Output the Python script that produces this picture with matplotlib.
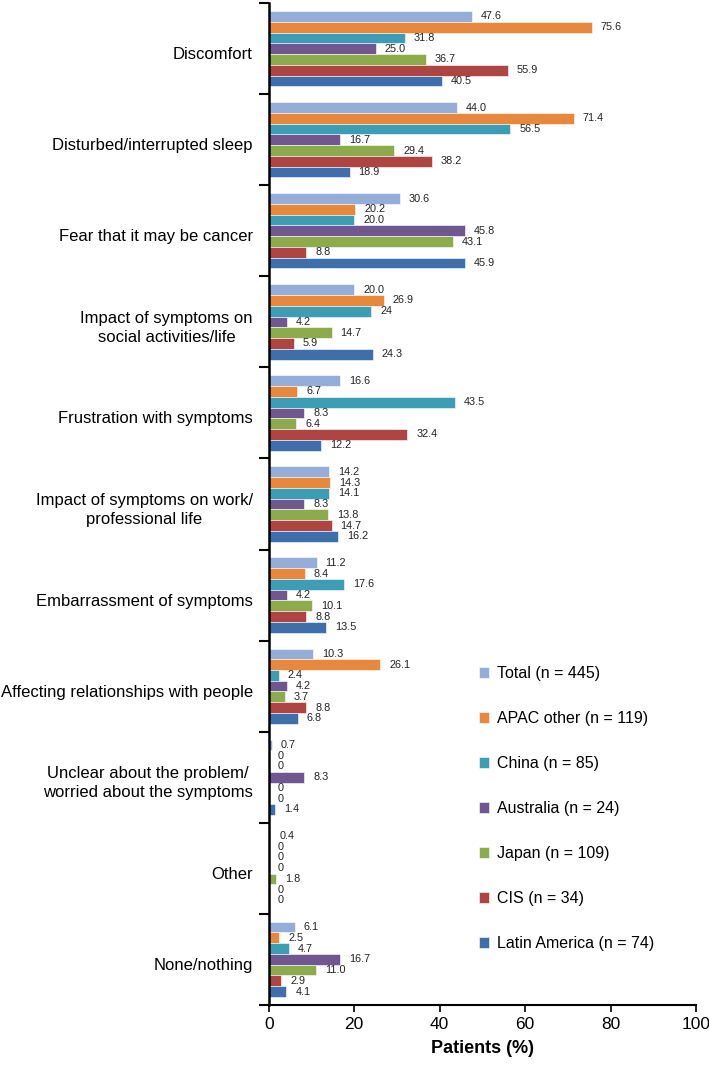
import numpy as np
import matplotlib
matplotlib.use("Agg")
import matplotlib.pyplot as plt
from matplotlib.transforms import ScaledTranslation, blended_transform_factory

plt.rcParams['font.family'] = ['Liberation Sans', 'DejaVu Sans']

# categories, top to bottom
categories = [
    'Discomfort',
    'Disturbed/interrupted sleep',
    'Fear that it may be cancer',
    'Impact of symptoms on\nsocial activities/life',
    'Frustration with symptoms',
    'Impact of symptoms on work/\nprofessional life',
    'Embarrassment of symptoms',
    'Affecting relationships with people',
    'Unclear about the problem/\nworried about the symptoms',
    'Other',
    'None/nothing',
]

series_names = ['Total (n = 445)', 'APAC other (n = 119)', 'China (n = 85)',
                'Australia (n = 24)', 'Japan (n = 109)', 'CIS (n = 34)',
                'Latin America (n = 74)']
colors = ['#95aed9', '#e8883c', '#3d9db4', '#71578f', '#8bab4c', '#ae4543', '#3f6faa']

total = [47.6, 44.0, 30.6, 20.0, 16.6, 14.2, 11.2, 10.3, 0.7, 0.4, 6.1]
apac = [75.6, 71.4, 20.2, 26.9, 6.7, 14.3, 8.4, 26.1, 0, 0, 2.5]
china = [31.8, 56.5, 20.0, 24, 43.5, 14.1, 17.6, 2.4, 0, 0, 4.7]
australia = [25.0, 16.7, 45.8, 4.2, 8.3, 8.3, 4.2, 4.2, 8.3, 0, 16.7]
japan = [36.7, 29.4, 43.1, 14.7, 6.4, 13.8, 10.1, 3.7, 0, 1.8, 11.0]
cis = [55.9, 38.2, 8.8, 5.9, 32.4, 14.7, 8.8, 8.8, 0, 0, 2.9]
latam = [40.5, 18.9, 45.9, 24.3, 12.2, 16.2, 13.5, 6.8, 1.4, 0, 4.1]

# value labels as printed in the chart
total_lbl = ['47.6', '44.0', '30.6', '20.0', '16.6', '14.2', '11.2', '10.3', '0.7', '0.4', '6.1']
apac_lbl = ['75.6', '71.4', '20.2', '26.9', '6.7', '14.3', '8.4', '26.1', '0', '0', '2.5']
china_lbl = ['31.8', '56.5', '20.0', '24', '43.5', '14.1', '17.6', '2.4', '0', '0', '4.7']
australia_lbl = ['25.0', '16.7', '45.8', '4.2', '8.3', '8.3', '4.2', '4.2', '8.3', '0', '16.7']
japan_lbl = ['36.7', '29.4', '43.1', '14.7', '6.4', '13.8', '10.1', '3.7', '0', '1.8', '11.0']
cis_lbl = ['55.9', '38.2', '8.8', '5.9', '32.4', '14.7', '8.8', '8.8', '0', '0', '2.9']
latam_lbl = ['40.5', '18.9', '45.9', '24.3', '12.2', '16.2', '13.5', '6.8', '1.4', '0', '4.1']

series = [total, apac, china, australia, japan, cis, latam]
labels = [total_lbl, apac_lbl, china_lbl, australia_lbl, japan_lbl, cis_lbl, latam_lbl]

fig = plt.figure(figsize=(7.09, 10.65), dpi=100)
ax = fig.add_axes([0.379, 0.0565, 0.603, 0.9405])

n = len(categories)
y = np.arange(n)
h = 0.118
for j, (vals, lbls, col, name) in enumerate(zip(series, labels, colors, series_names)):
    pos = y + (j - 3) * h
    ax.barh(pos, vals, height=h, color=col, edgecolor='white', linewidth=0.4, label=name)
    for v, p, t in zip(vals, pos, lbls):
        ax.annotate(t, (v, p), xytext=(6.5, 0), textcoords='offset points',
                    va='center', ha='left', fontsize=7.8, color='#222222')

ax.set_ylim(n - 0.5, -0.5)
ax.set_xlim(0, 100)
ax.set_xticks(np.arange(0, 101, 20))
ax.tick_params(axis='x', labelsize=12.5, direction='out', length=5, width=1.2)

ax.set_yticks(np.arange(-0.5, n, 1.0))
ax.set_yticklabels([])
ax.tick_params(axis='y', which='major', direction='out', length=7, width=1.5)

# category labels, right-aligned left of the axis, sitting a bit below the group centre
lbl_tr = blended_transform_factory(ax.transAxes, ax.transData) + \
    ScaledTranslation(-16 / 100, -6 / 100, fig.dpi_scale_trans)
for yc, cat in zip(y, categories):
    ax.text(0, yc, cat, transform=lbl_tr, ha='right', va='center',
            multialignment='center', fontsize=12, linespacing=1.3)

for s in ['top', 'right']:
    ax.spines[s].set_visible(False)
ax.spines['left'].set_linewidth(1.8)
ax.spines['bottom'].set_linewidth(1.5)

ax.set_xlabel('Patients (%)', fontsize=13, fontweight='bold', labelpad=6)

ax.legend(loc='upper left', bbox_to_anchor=(0.655, 0.388), bbox_transform=fig.transFigure,
          frameon=False, fontsize=11.5, labelspacing=1.88, handlelength=0.67,
          handleheight=0.67, handletextpad=0.45)

plt.savefig('out.png', dpi=100)
